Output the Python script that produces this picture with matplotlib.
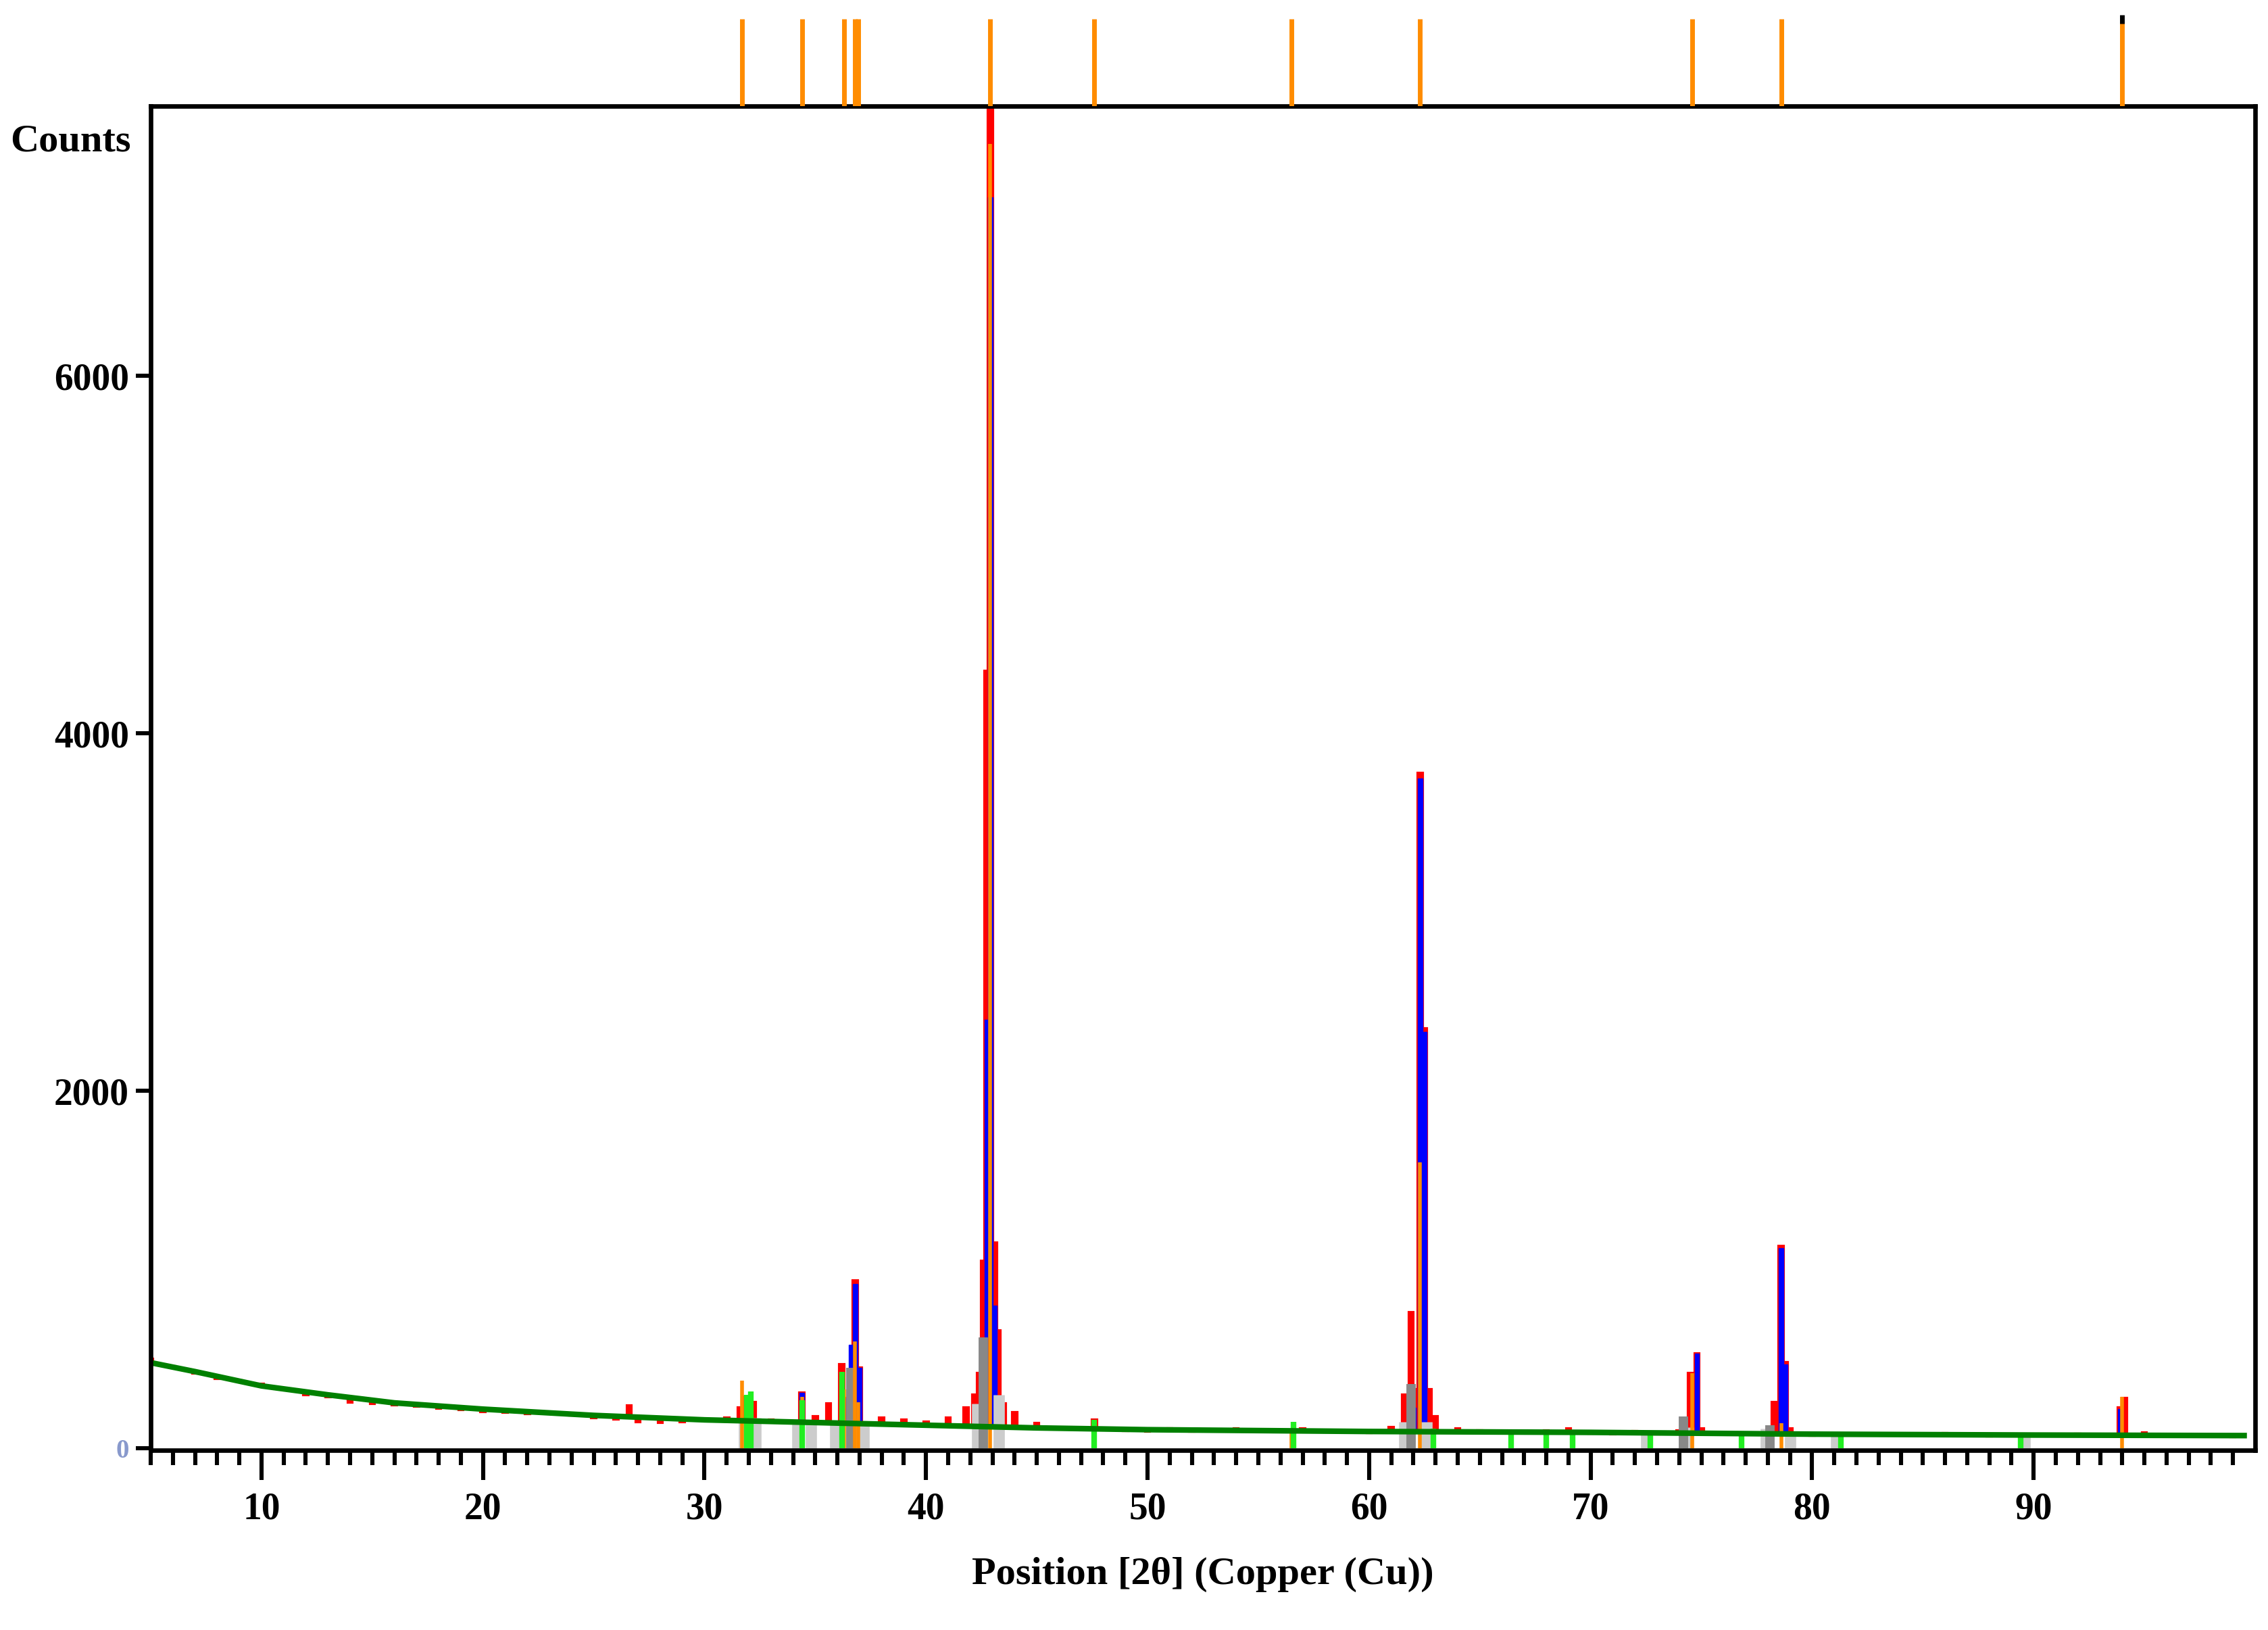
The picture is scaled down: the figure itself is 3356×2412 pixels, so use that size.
import matplotlib
matplotlib.use("Agg")
import matplotlib.pyplot as plt
import numpy as np

plt.rcParams.update({
    "font.family": ["Liberation Serif", "DejaVu Serif"],
    "font.weight": "bold",
    "axes.labelweight": "bold",
    "font.size": 20,
})

# background (green), anchor points
bg_x = [5, 7, 10, 13, 16, 20, 25, 30, 35, 40, 45, 50, 60, 70, 80, 90, 99.5]
bg_y = [480, 430, 350, 300, 255, 220, 185, 160, 145, 130, 115, 105, 95, 90, 80, 75, 72]

# observed counts (red), coarse steps
obs_x = [5, 6, 7, 8, 9, 10, 11, 12, 13, 14, 15, 16, 17, 18, 19, 20, 21, 22, 23, 24,
         25, 26, 26.6, 27, 28, 29, 30, 31, 31.6, 31.9, 32.2, 33, 34.4, 35, 35.6, 36.2,
         36.5, 36.8, 37.0, 38, 39, 40, 41, 41.8, 42.2, 42.4, 42.6, 42.75, 42.9, 43.1,
         43.25, 43.5, 44, 45, 46, 47.6, 48, 49, 50, 51, 52, 53, 54, 55, 56, 57, 58, 59,
         60, 61, 61.6, 61.9, 62.1, 62.3, 62.5, 62.7, 63, 64, 65, 66, 67, 68, 69, 70, 71,
         72, 73, 74, 74.5, 74.8, 75, 76, 77, 78, 78.3, 78.6, 78.8, 79, 80, 82, 84, 86,
         88, 90, 92, 93.9, 94.1, 95, 96, 97, 98, 99]
obs_y = [500, 460, 420, 390, 380, 360, 330, 300, 290, 260, 250, 245, 235, 225, 215, 205, 200, 195, 200, 185,
         170, 165, 240, 150, 145, 150, 155, 170, 230, 290, 260, 160, 310, 180, 250, 470,
         280, 940, 450, 170, 160, 150, 170, 230, 300, 420, 1050, 4350, 7500, 1150,
         660, 250, 200, 140, 110, 160, 110, 100, 95, 110, 95, 100, 110, 95, 105, 110, 100, 95,
         90, 120, 300, 760, 330, 3780, 2350, 330, 180, 110, 100, 90, 95, 100, 110, 85, 80,
         95, 80, 100, 420, 530, 110, 90, 80, 100, 260, 1130, 480, 110, 75, 80, 78, 85,
         70, 75, 80, 230, 280, 90, 75, 78, 70, 65]

# calculated profile (blue)
calc_x = [32.0, 34.4, 36.3, 36.6, 36.8, 37.0, 42.6, 42.75, 42.9, 43.1, 62.0, 62.3, 62.5, 74.8, 78.6, 78.8, 93.9]
calc_y = [180, 310, 280, 580, 920, 450, 500, 2400, 7000, 800, 230, 3750, 2330, 530, 1120, 470, 220]

# reference phase sticks
green_x = [31.9, 32.1, 34.4, 36.2, 47.6, 56.6, 62.9, 66.4, 68.0, 69.2, 72.7, 76.8, 81.3, 89.4]
green_y = [300, 320, 270, 430, 160, 150, 110, 90, 95, 100, 85, 80, 75, 70]
dgray_x = [36.6, 42.6, 61.9, 74.2, 78.1]
dgray_y = [450, 620, 360, 180, 130]
lgray_x = [31.8, 32.3, 34.2, 34.8, 35.9, 37.2, 42.3, 43.3, 61.6, 62.6, 72.5, 74.4, 77.9, 79.0, 81.1, 89.6]
lgray_y = [170, 170, 150, 150, 150, 140, 250, 300, 150, 150, 80, 120, 110, 90, 70, 65]
orange_x = [31.7, 34.4, 36.3, 36.8, 36.95, 42.9, 47.6, 56.5, 62.3, 74.6, 78.6, 94.0]
orange_y = [380, 290, 330, 600, 260, 7300, 120, 100, 1600, 420, 140, 290]

fig = plt.figure(figsize=(16.78, 12.06), dpi=200)
ax = fig.add_axes([223 / 3356, 1 - 2146 / 2412, (3337 - 223) / 3356, (2146 - 157) / 2412])
top = fig.add_axes([223 / 3356, 1 - 157 / 2412, (3337 - 223) / 3356, 135 / 2412], sharex=ax)

ax.vlines(lgray_x, 0, lgray_y, color="#cccccc", lw=6)
ax.vlines(dgray_x, 0, dgray_y, color="#888888", lw=5)

bottom = np.interp(obs_x, bg_x, bg_y)
ax.bar(obs_x, np.array(obs_y) - bottom, bottom=bottom, width=0.2,
       color="red", edgecolor="red", lw=1.5)
ax.vlines(orange_x, 0, orange_y, color="#ff8c00", lw=2)
cb = np.interp(calc_x, bg_x, bg_y)
ax.bar(calc_x, np.array(calc_y) - cb, bottom=cb, width=0.2,
       color="blue", edgecolor="blue", lw=0.5)
ax.vlines(green_x, 0, green_y, color="#22ee22", lw=3)
ax.plot(bg_x, bg_y, color="green", lw=3)

ax.set_xlim(5, 100)
ax.set_ylim(-10, 7510)
ax.set_xticks(range(10, 100, 10))
ax.set_xticks(range(5, 100), minor=True)
ax.set_yticks([0, 2000, 4000, 6000])
ax.tick_params(axis="x", which="major", direction="out", length=16, width=2.2, pad=6)
ax.tick_params(axis="x", which="minor", direction="out", length=8, width=2.2)
ax.tick_params(axis="y", direction="out", length=8, width=2.2)
for s in ax.spines.values():
    s.set_linewidth(2.4)
labels = ax.get_yticklabels()
labels[0].set_color("#8899cc")
labels[0].set_fontsize(14)
ax.set_xlabel("Position [2θ] (Copper (Cu))", labelpad=16, fontsize=21)
fig.text(15 / 3356, 1 - 210 / 2412, "Counts", fontsize=21, va="center")

top.vlines(orange_x, 0, 1, color="#ff8c00", lw=2.5)
top.vlines([94.0], 0.95, 1.05, color="black", lw=2.5)
top.set_ylim(0, 1.05)
top.axis("off")

fig.savefig("out.png", dpi=200)
